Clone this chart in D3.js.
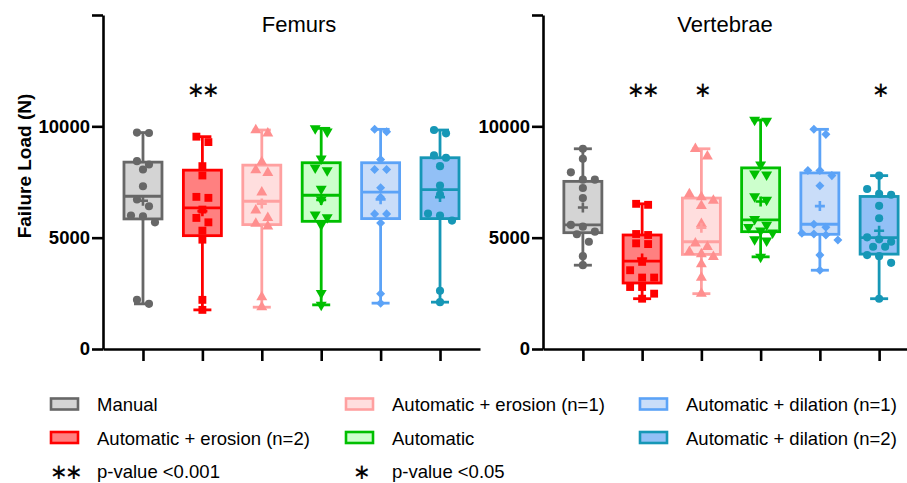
<!DOCTYPE html>
<html>
<head>
<meta charset="utf-8">
<script src="https://cdn.jsdelivr.net/npm/d3@7"></script>
<style>
  body { margin: 0; background: #fff; }
  text { font-family: "Liberation Sans", Arial, sans-serif; }
</style>
</head>
<body>
<script>
// groups, in plotting order
var groups = ["Manual", "Automatic + erosion (n=2)", "Automatic + erosion (n=1)",
  "Automatic", "Automatic + dilation (n=1)", "Automatic + dilation (n=2)"];

var strokeColors = ["#676767", "#ff0000", "#ffa0a0", "#00bf00", "#5ca3f7", "#1697b6"];
var fillColors = ["#d4d4d4", "#ff8080", "#ffdede", "#ccffcc", "#c9ddf9", "#92c0f6"];
var pointColors = ["#676767", "#ff0000", "#ff8f8f", "#00bf00", "#5ca3f7", "#1697b6"];

var yTicks = [0, 5000, 10000, 15000];

// failure load per specimen (N)
var femurPoints = [
  [9720, 9700, 8437, 8288, 8063, 7311, 6712, 6410, 5991, 5959, 5689, 2207, 2027],
  [9536, 9293, 8212, 7793, 6833, 6788, 6261, 5887, 5689, 5315, 4910, 2207, 1757],
  [9835, 9685, 8392, 8032, 7914, 7041, 6230, 5887, 5631, 5509, 2329, 1878],
  [9910, 9761, 8545, 8140, 8018, 7194, 6712, 6036, 5914, 5586, 2509, 1982],
  [9865, 9761, 8514, 8063, 8063, 7239, 6815, 6068, 6068, 5662, 2477, 2059],
  [9834, 9685, 8694, 8590, 8212, 7342, 6937, 6081, 5991, 5766, 2613, 2104]
];
// [q1, median, q3]
var femurBoxes = [
  [5842, 6860, 8392],
  [5090, 6338, 8032],
  [5586, 6635, 8257],
  [5734, 6905, 8365],
  [5856, 7041, 8365],
  [5856, 7162, 8590]
];
var femurStars = ["", "∗∗", "", "", "", ""];

var vertebraePoints = [
  [8992, 8541, 7935, 7605, 7605, 7230, 6778, 5572, 5495, 5269, 5151, 4817, 4171, 3764],
  [6475, 6520, 5120, 5165, 4745, 4713, 3913, 3538, 3208, 3208, 2784, 2784, 2485, 2259],
  [8992, 8658, 6959, 6823, 6670, 6430, 5617, 4745, 4591, 4365, 4261, 4139, 3809, 3208, 2485],
  [10240, 10285, 8283, 7876, 7831, 6851, 6700, 5829, 5572, 5468, 5314, 5224, 4925, 4862, 4139],
  [9865, 9639, 8013, 8013, 7787, 7335, 5603, 5468, 5197, 5165, 5120, 4894, 4216, 3538],
  [7786, 7185, 6973, 6927, 6430, 5874, 5016, 4925, 4817, 4591, 4591, 4216, 4171, 3868, 2259]
];
var vertebraeBoxes = [
  [5224, 5572, 7528],
  [2964, 3945, 5120],
  [4248, 4817, 6778],
  [5269, 5798, 8134],
  [5151, 5603, 7908],
  [4261, 4998, 6851]
];
var vertebraeStars = ["", "∗∗", "∗", "", "", "∗"];

var symbols = [
  {type: d3.symbolCircle, size: 52, rot: 0},
  {type: d3.symbolSquare, size: 62, rot: 0},
  {type: d3.symbolTriangle, size: 52, rot: 0},
  {type: d3.symbolTriangle, size: 52, rot: 180},
  {type: d3.symbolDiamond2, size: 52, rot: 0},
  {type: d3.symbolCircle, size: 52, rot: 0}
];

var W = 907, H = 483;
var svg = d3.select("body").append("svg")
  .attr("width", W).attr("height", H);

var y = d3.scaleLinear().domain([0, 15000]).range([349, 15]);

// spread points sideways in rows
function layoutPoints(values) {
  var sorted = values.map(function(v) { return v; }).sort(function(a, b) { return b - a; });
  var rows = [], cur = null;
  sorted.forEach(function(v) {
    if (cur && Math.abs(y(v) - y(cur[0])) < 8) cur.push(v);
    else { cur = [v]; rows.push(cur); }
  });
  var out = [];
  rows.forEach(function(r) {
    r.forEach(function(v, i) { out.push({v: v, dx: (i - (r.length - 1) / 2) * 12}); });
  });
  return out;
}

function starText(sel, x, cy, txt) {
  sel.append("text").attr("x", x).attr("y", cy).attr("text-anchor", "middle")
    .attr("dominant-baseline", "central")
    .attr("font-family", "DejaVu Sans").attr("font-size", 21).attr("letter-spacing", -3)
    .attr("stroke", "#000").attr("stroke-width", 0.2)
    .text(txt);
}

function drawPanel(x0, x1, title, titleX, points, boxes, stars) {
  var x = d3.scalePoint().domain(groups).range([x0, x1]).padding(0.673);
  var g = svg.append("g");

  // axes
  g.append("g")
    .attr("transform", "translate(0,349)")
    .call(d3.axisBottom(x).tickSize(12).tickSizeOuter(0).tickFormat(""))
    .call(function(a) {
      a.selectAll("path,line").attr("stroke", "#000").attr("stroke-width", 2.6);
    });
  g.append("g")
    .attr("transform", "translate(" + x0 + ",0)")
    .call(d3.axisLeft(y).tickValues(yTicks).tickSize(11).tickSizeOuter(0).tickPadding(2)
      .tickFormat(function(d) { return d === 15000 ? "" : d; }))
    .call(function(a) {
      a.selectAll("path,line").attr("stroke", "#000").attr("stroke-width", 2.6);
      a.selectAll("text").attr("font-size", 18.5).attr("font-weight", "bold")
        .attr("fill", "#000").attr("font-family", "Liberation Sans, Arial, sans-serif");
    });

  g.append("text").attr("x", titleX).attr("y", 32).attr("text-anchor", "middle")
    .attr("font-size", 22).text(title);

  groups.forEach(function(name, i) {
    var cx = x(name), b = boxes[i], pts = points[i];
    var mn = d3.min(pts), mx = d3.max(pts), bw = 38, cw = 18;
    var sc = strokeColors[i];
    var gg = g.append("g");
    gg.append("rect").attr("x", cx - bw / 2).attr("y", y(b[2]))
      .attr("width", bw).attr("height", y(b[0]) - y(b[2]))
      .attr("fill", fillColors[i]).attr("stroke", sc).attr("stroke-width", 2.8);
    [[mx, b[2]], [b[0], mn]].forEach(function(s) {
      gg.append("line").attr("x1", cx).attr("x2", cx).attr("y1", y(s[0])).attr("y2", y(s[1]))
        .attr("stroke", sc).attr("stroke-width", 2.8);
    });
    [mn, mx].forEach(function(v) {
      gg.append("line").attr("x1", cx - cw / 2).attr("x2", cx + cw / 2).attr("y1", y(v)).attr("y2", y(v))
        .attr("stroke", sc).attr("stroke-width", 2.8);
    });
    gg.append("line").attr("x1", cx - bw / 2).attr("x2", cx + bw / 2)
      .attr("y1", y(b[1])).attr("y2", y(b[1]))
      .attr("stroke", sc).attr("stroke-width", 2.8);

    var sym = d3.symbol().type(symbols[i].type).size(symbols[i].size);
    gg.selectAll(".pt").data(layoutPoints(pts)).enter().append("path")
      .attr("class", "pt")
      .attr("d", sym)
      .attr("transform", function(d) {
        return "translate(" + (cx + d.dx) + "," + y(d.v) + ") rotate(" + symbols[i].rot + ")";
      })
      .attr("fill", pointColors[i]);

    // mean marker
    var m = y(d3.mean(pts));
    gg.append("path")
      .attr("d", "M" + (cx - 5) + "," + m + "H" + (cx + 5) + "M" + cx + "," + (m - 5) + "V" + (m + 5))
      .attr("stroke", sc).attr("stroke-width", 2.6).attr("fill", "none");

    if (stars[i]) starText(g, cx, 89, stars[i]);
  });
}

drawPanel(103, 480, "Femurs", 299, femurPoints, femurBoxes, femurStars);
drawPanel(543, 919, "Vertebrae", 725, vertebraePoints, vertebraeBoxes, vertebraeStars);

// y axis title
svg.append("text")
  .attr("transform", "translate(31,166) rotate(-90)")
  .attr("text-anchor", "middle").attr("font-size", 19).attr("font-weight", "bold")
  .text("Failure Load (N)");

// legend
var legX = [51, 346, 640], legRowY = [404.5, 438, 471.5];
groups.forEach(function(name, i) {
  var col = Math.floor(i / 2), row = i % 2;
  svg.append("rect").attr("x", legX[col]).attr("y", legRowY[row] - 6)
    .attr("width", 27).attr("height", 11)
    .attr("fill", fillColors[i]).attr("stroke", strokeColors[i]).attr("stroke-width", 2.6);
  svg.append("text").attr("x", legX[col] + 46).attr("y", legRowY[row] + 6.5)
    .attr("font-size", 18.5).text(name);
});
var pLabels = [["∗∗", "p-value <0.001"], ["∗", "p-value <0.05"]];
pLabels.forEach(function(p, i) {
  starText(svg, legX[i] + 14, legRowY[2], p[0]);
  svg.append("text").attr("x", legX[i] + 46).attr("y", legRowY[2] + 6.5)
    .attr("font-size", 18.5).text(p[1]);
});
</script>
</body>
</html>
